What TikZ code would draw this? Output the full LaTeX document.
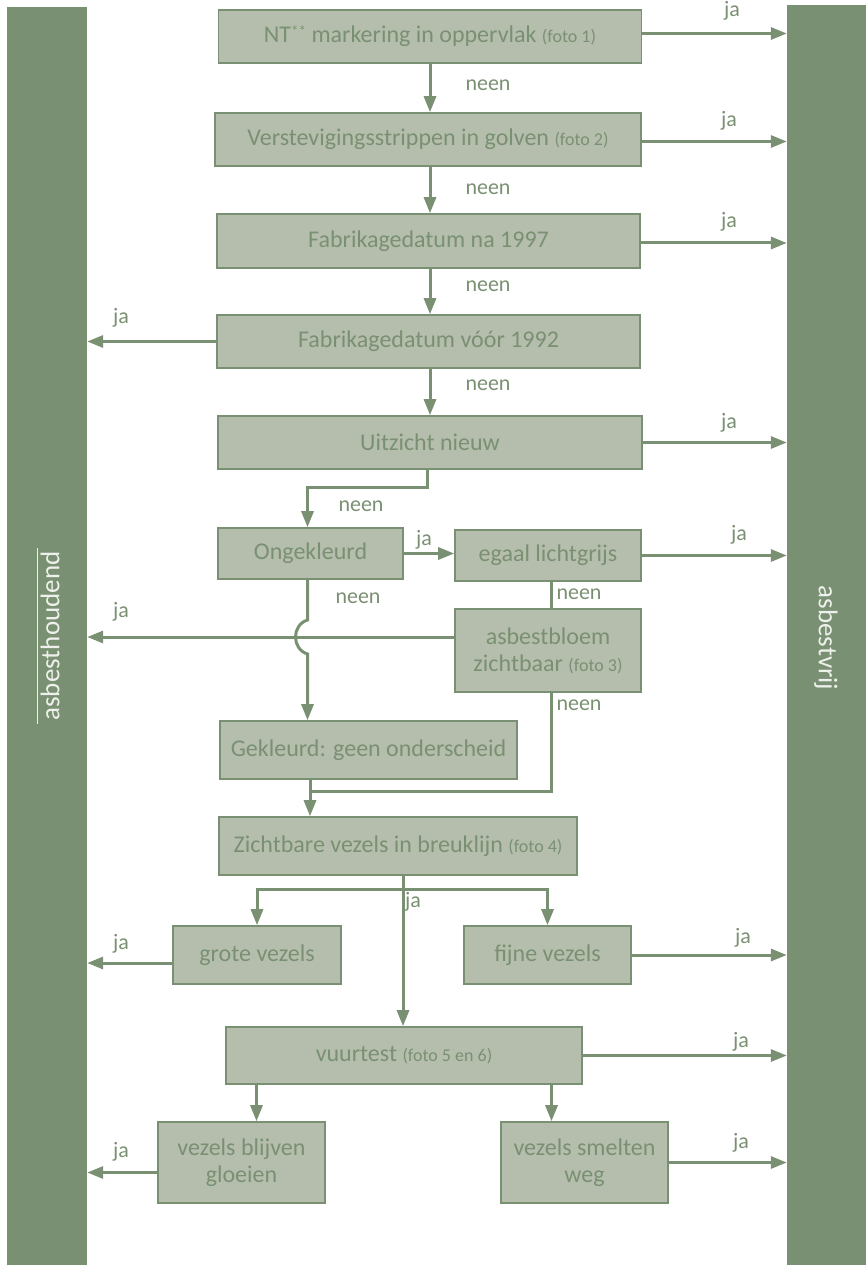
\documentclass[tikz,border=0pt]{standalone}
\usepackage{fontspec}
\setmainfont{Carlito}
\usetikzlibrary{arrows.meta}
\definecolor{groen}{HTML}{7A9072}
\definecolor{vulling}{HTML}{B5BEAD}
\definecolor{bartekst}{HTML}{EEF1EB}
\newcommand{\foto}[1]{{\fontsize{18}{27}\selectfont(foto~#1)}}

\begin{document}
\begin{tikzpicture}
  [x=1pt, y=-1pt, font=\fontsize{24}{27}\selectfont,
   box/.style={draw=groen, fill=vulling, line width=1.6pt, text=groen, inner sep=0pt, align=center},
   bar/.style={fill=groen, inner sep=0pt},
   bartxt/.style={text=bartekst, font=\fontsize{27}{30}\selectfont, inner sep=3pt},
   pijl/.style={draw=groen, line width=3pt, -{Triangle[length=16pt,width=12pt]}},
   lijn/.style={draw=groen, line width=3pt},
   keuze/.style={text=groen, inner sep=0pt, font=\fontsize{22}{26}\selectfont}]
	\useasboundingbox (0,0) rectangle (866,1265);

	% zijbalken
	\node [bar, name=houdend, minimum width=80pt, minimum height=1258pt] at (47,636) {};
	\node [bartxt, name=houdendtxt, rotate=90] at (50,636) {asbesthoudend};
	\draw [bartekst, line width=0.6pt] (houdendtxt.north west) -- (houdendtxt.north east);
	\node [bar, name=vrij, minimum width=79pt, minimum height=1260pt] at (826.5,635) {};
	\node [bartxt, name=vrijtxt, rotate=-90] at (826,638) {asbestvrij};

	% vragen
	\node [box, name=nt, minimum width=423pt, minimum height=53pt] at (430,36.5) {NT\raisebox{6pt}{\fontsize{15}{15}\selectfont**} markering in oppervlak \foto{1}};
	\node [box, name=verst, minimum width=426pt, minimum height=53pt] at (428,139.5) {Verstevigingsstrippen in golven \foto{2}};
	\node [box, name=na, minimum width=423pt, minimum height=54pt] at (428.5,241) {Fabrikagedatum na 1997};
	\node [box, name=voor, minimum width=423pt, minimum height=53pt] at (428.5,341.5) {Fabrikagedatum vóór 1992};
	\node [box, name=uitzicht, minimum width=424pt, minimum height=53pt] at (430,442.5) {Uitzicht nieuw};
	\node [box, name=ongekl, minimum width=185pt, minimum height=51pt] at (310.5,553.5) {Ongekleurd};
	\node [box, name=egaal, minimum width=186pt, minimum height=51pt] at (548,555.5) {egaal lichtgrijs};
	\node [box, name=bloem, minimum width=186pt, minimum height=83pt] at (548,650.5) {asbestbloem\\zichtbaar \foto{3}};
	\node [box, name=gekl, minimum width=297pt, minimum height=58pt] at (368.5,750) {Gekleurd: geen onderscheid};
	\node [box, name=zicht, minimum width=358pt, minimum height=58pt] at (398,846) {Zichtbare vezels in breuklijn \foto{4}};
	\node [box, name=grof, minimum width=168pt, minimum height=58pt] at (257,955) {grote vezels};
	\node [box, name=fijn, minimum width=167pt, minimum height=58pt] at (547.5,955) {fijne vezels};
	\node [box, name=vuur, minimum width=356pt, minimum height=57pt] at (404,1055.5) {vuurtest \foto{5 en 6}};
	\node [box, name=gloei, minimum width=167pt, minimum height=81pt] at (241.5,1162.5) {vezels blijven\\gloeien};
	\node [box, name=smelt, minimum width=167pt, minimum height=81pt] at (584.5,1162.5) {vezels smelten\\weg};

	\coordinate (kruis) at (0,637);
	\coordinate (samen) at (310,791);
	\coordinate (splits) at (403,889);

	% ja naar rechts
	\path [pijl] ([yshift=3pt]nt.east) -- ([yshift=3pt]nt.east -| vrij.west);
	\path [pijl] ([yshift=-2pt]verst.east) -- ([yshift=-2pt]verst.east -| vrij.west);
	\path [pijl] ([yshift=-2pt]na.east) -- ([yshift=-2pt]na.east -| vrij.west);
	\path [pijl] (uitzicht.east) -- (uitzicht.east -| vrij.west);
	\path [pijl] (egaal.east) -- (egaal.east -| vrij.west);
	\path [pijl] (fijn.east) -- (fijn.east -| vrij.west);
	\path [pijl] (vuur.east) -- (vuur.east -| vrij.west);
	\path [pijl] (smelt.east) -- (smelt.east -| vrij.west);

	% ja naar links
	\path [pijl] (voor.west) -- (voor.west -| houdend.east);
	\path [pijl] (bloem.west |- kruis) -- (kruis -| houdend.east);
	\path [pijl] ([yshift=-8pt]grof.west) -- ([yshift=-8pt]grof.west -| houdend.east);
	\path [pijl] ([yshift=-10pt]gloei.west) -- ([yshift=-10pt]gloei.west -| houdend.east);

	% neen naar beneden
	\path [pijl] (nt.south) -- (nt.south |- verst.north);
	\path [pijl] (verst.south -| nt.south) -- (nt.south |- na.north);
	\path [pijl] (na.south -| nt.south) -- (nt.south |- voor.north);
	\path [pijl] (voor.south -| nt.south) -- (nt.south |- uitzicht.north);
	\path [pijl] ([xshift=-3pt]uitzicht.south) -- ++(0,18) -| ([xshift=-3pt]ongekl.north);
	\path [pijl] (ongekl.east) -- (ongekl.east -| egaal.west);
	\path [lijn] ([xshift=3pt]egaal.south) -- ([xshift=3pt]bloem.north);
	\path [pijl] ([xshift=-3pt]ongekl.south) -- ([xshift=-3pt,yshift=17pt]ongekl.south |- kruis)
		.. controls +(-16,5) and +(-16,-5) .. ([xshift=-3pt,yshift=-17pt]ongekl.south |- kruis)
		-- ([xshift=-3pt]ongekl.south |- gekl.north);
	\path [lijn] ([xshift=3pt]bloem.south) |- (samen);
	\path [pijl] (samen |- gekl.south) -- (samen |- zicht.north);

	% vezels
	\path [pijl] (splits |- zicht.south) -- (splits |- vuur.north);
	\path [pijl] (splits) -| (grof.north);
	\path [pijl] (splits) -| (fijn.north);
	\path [pijl] ([xshift=15pt]gloei.north |- vuur.south) -- ([xshift=15pt]gloei.north);
	\path [pijl] ([xshift=-33pt]smelt.north |- vuur.south) -- ([xshift=-33pt]smelt.north);

	% labels
	\node [keuze, name=ja1] at (732,11) {ja};
	\node [keuze, name=ja2] at (729,121) {ja};
	\node [keuze, name=ja3] at (729,222) {ja};
	\node [keuze, name=ja4] at (121,318) {ja};
	\node [keuze, name=ja5] at (729,423) {ja};
	\node [keuze, name=ja6] at (424,540) {ja};
	\node [keuze, name=ja7] at (739,535) {ja};
	\node [keuze, name=ja8] at (121,612) {ja};
	\node [keuze, name=ja9] at (413,902) {ja};
	\node [keuze, name=ja10] at (121,944) {ja};
	\node [keuze, name=ja11] at (743,938) {ja};
	\node [keuze, name=ja12] at (741,1042) {ja};
	\node [keuze, name=ja13] at (121,1152) {ja};
	\node [keuze, name=ja14] at (741,1143) {ja};
	\node [keuze, name=neen1] at (488,85) {neen};
	\node [keuze, name=neen2] at (488,189) {neen};
	\node [keuze, name=neen3] at (488,286) {neen};
	\node [keuze, name=neen4] at (488,385) {neen};
	\node [keuze, name=neen5] at (361,506) {neen};
	\node [keuze, name=neen6] at (358,598) {neen};
	\node [keuze, name=neen7] at (579,594) {neen};
	\node [keuze, name=neen8] at (579,705) {neen};
\end{tikzpicture}
\end{document}
